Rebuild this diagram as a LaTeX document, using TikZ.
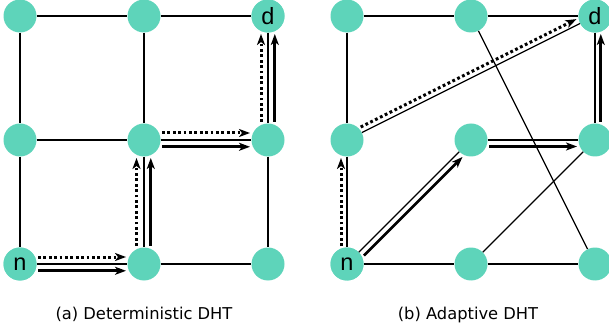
\documentclass[tikz,border=0pt]{standalone}
\usepackage{fontspec}
\setmainfont{DejaVu Sans}
\newfontfamily\labfont{Liberation Sans}
\usetikzlibrary{arrows.meta,calc}
\definecolor{mint}{RGB}{94,212,186}
\newcommand\myarrL[4]{\draw[#1] ($(#2)!#4!90:(#3)$) -- ($(#3)!#4!-90:(#2)$);}
\newcommand\myarrR[4]{\draw[#1] ($(#2)!#4!-90:(#3)$) -- ($(#3)!#4!90:(#2)$);}
\begin{document}
\begin{tikzpicture}[x=1pt,y=1pt,
  vert/.style={circle,fill=mint,minimum size=33pt,inner sep=0pt,font=\labfont\fontsize{23.5}{23.5}\selectfont},
  edge/.style={line width=1.3pt},
  solidarr/.style={line width=2.7pt,shorten <=18pt,shorten >=18pt,-{Stealth[length=11pt,width=8pt,inset=3pt]}},
  dotarr/.style={line width=3pt,dash pattern=on 2.8pt off 2.6pt,shorten <=18pt,shorten >=18pt,-{Stealth[length=11pt,width=8pt,inset=3pt]}},
  captext/.style={anchor=base,font=\fontsize{16.3}{18}\selectfont}]
\useasboundingbox (0,0) rectangle (609,329);
\foreach \r/\y in {0/313,1/189,2/65}{
  \foreach \c/\x in {0/20,1/144,2/268}{
    \node[vert] (a\r\c) at (\x,\y) {};
  }
}
\foreach \r/\y in {0/313,1/189,2/65}{
  \foreach \c/\x in {0/347,1/471,2/595}{
    \node[vert] (b\r\c) at (\x,\y) {};
  }
}
\node[vert] at (a20) {n};
\node[vert] at (a02) {d};
\node[vert] at (b20) {n};
\node[vert] at (b02) {d};
% left edges
\foreach \r in {0,1,2}{
  \draw[edge] (a\r0) -- (a\r1);
  \draw[edge] (a\r1) -- (a\r2);
}
\foreach \c in {0,1,2}{
  \draw[edge] (a0\c) -- (a1\c);
  \draw[edge] (a1\c) -- (a2\c);
}
% right edges
\draw[edge] (b00) -- (b01);
\draw[edge] (b01) -- (b02);
\draw[edge] (b00) -- (b10);
\draw[edge] (b10) -- (b20);
\draw[edge] (b20) -- (b21);
\draw[edge] (b21) -- (b22);
\draw[edge] (b02) -- (b12);
\draw[edge] (b10) -- (b02);
\draw[edge] (b20) -- (b11);
\draw[edge] (b11) -- (b12);
\draw[edge] (b01) -- (b22);
\draw[edge] (b21) -- (b12);
% left arrows
\myarrL{dotarr}{a20}{a21}{7pt}
\myarrL{dotarr}{a21}{a11}{7.5pt}
\myarrL{dotarr}{a11}{a12}{7pt}
\myarrL{dotarr}{a12}{a02}{7pt}
\myarrR{solidarr}{a20}{a21}{6.8pt}
\myarrR{solidarr}{a21}{a11}{6.8pt}
\myarrR{solidarr}{a11}{a12}{6.8pt}
\myarrR{solidarr}{a12}{a02}{6.8pt}
% right arrows
\myarrL{dotarr}{b20}{b10}{6pt}
\myarrL{dotarr}{b10}{b02}{5.5pt}
\myarrR{solidarr}{b20}{b11}{6pt}
\myarrR{solidarr}{b11}{b12}{6.5pt}
\myarrR{solidarr}{b12}{b02}{5.8pt}
% captions
\node[captext] (capa) at (144,10) {(a) Deterministic DHT};
\node[captext] (capb) at (468,10) {(b) Adaptive DHT};
\end{tikzpicture}
\end{document}
